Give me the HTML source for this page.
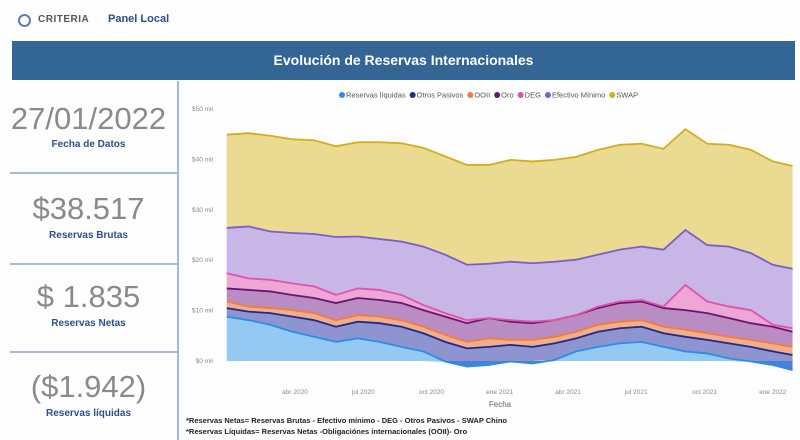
<!DOCTYPE html>
<html><head><meta charset="utf-8">
<style>
body{margin:0;width:800px;height:440px;background:#fdfdfd;font-family:"Liberation Sans",sans-serif;overflow:hidden;position:relative}
.abs{position:absolute}
.big{position:absolute;left:0;width:177px;text-align:center;color:#8a8a8a;font-size:31px;font-weight:300}
.lbl{position:absolute;left:0;width:177px;text-align:center;color:#2d4f85;font-size:10px;font-weight:bold}
.hl{position:absolute;left:10px;width:167px;height:1.5px;background:#a9b9cd}
</style></head><body>
<div class="abs" style="left:18px;top:14px;width:9px;height:9px;border:2.5px solid #5b7fb0;border-radius:50%"></div>
<div class="abs" style="left:38px;top:14px;font-size:10px;font-weight:bold;color:#555;letter-spacing:0.5px">CRITERIA</div>
<div class="abs" style="left:108px;top:13px;font-size:11px;font-weight:bold;color:#2d4f85">Panel Local</div>
<div class="abs" style="left:12px;top:41px;width:783px;height:39px;background:#336694;color:#fff;font-weight:bold;font-size:14px;text-align:center;line-height:39px">Evolución de Reservas Internacionales</div>
<div class="abs" style="left:177px;top:81px;width:1.5px;height:359px;background:#a9b9cd"></div>
<div class="big" style="top:101px">27/01/2022</div>
<div class="lbl" style="top:139px">Fecha de Datos</div>
<div class="hl" style="top:172px"></div>
<div class="big" style="top:191px">$38.517</div>
<div class="lbl" style="top:230px">Reservas Brutas</div>
<div class="hl" style="top:263px"></div>
<div class="big" style="top:279px">$ 1.835</div>
<div class="lbl" style="top:318px">Reservas Netas</div>
<div class="hl" style="top:351px"></div>
<div class="big" style="top:369px">($1.942)</div>
<div class="lbl" style="top:408px">Reservas líquidas</div>
<div class="abs" style="left:186px;top:416px;font-size:7.5px;font-weight:bold;color:#222">*Reservas Netas= Reservas Brutas - Efectivo mínimo - DEG - Otros Pasivos - SWAP Chino</div>
<div class="abs" style="left:186px;top:427px;font-size:7.5px;font-weight:bold;color:#222">*Reservas Líquidas= Reservas Netas -Obligaciónes internacionales (OOII)- Oro</div>
<svg id="chart" class="abs" style="left:0;top:0" width="800" height="440"></svg>
<script>
const months=[0,0.96,1.92,2.88,3.84,4.8,5.76,6.72,7.68,8.64,9.6,10.56,11.52,12.48,13.44,14.4,15.36,16.32,17.28,18.24,19.2,20.16,21.12,22.08,23.04,24.0,24.87];
const liquidas=[8.8,8.1,7.2,5.8,4.8,3.8,4.5,3.8,2.8,1.9,-0.1,-1.1,-0.8,-0.1,-0.5,0.2,1.9,2.8,3.5,3.8,2.8,1.9,1.5,0.5,-0.1,-0.8,-1.8];
const otrosPasivos=[1.7,1.7,2.3,3.0,3.3,3.0,3.3,3.7,4.0,3.6,3.8,2.5,2.8,3.2,2.8,3.3,2.6,3.0,3.0,3.0,2.7,2.9,2.7,3.0,2.8,1.9,1.2];
const ooii=[1.3,1.0,1.0,1.3,1.4,1.3,1.3,1.3,1.3,1.3,1.4,1.3,1.7,1.0,1.4,1.3,1.3,1.4,1.3,1.3,1.3,1.4,1.3,1.3,1.4,1.6,1.6];
const oro=[2.6,3.3,3.3,3.0,3.0,3.4,3.4,3.3,3.4,3.3,3.6,3.7,4.0,3.6,3.3,3.3,3.3,3.3,3.7,3.7,3.7,3.9,4.0,3.7,3.3,3.3,3.0];
const deg=[3.0,2.3,2.3,2.3,2.3,1.6,1.9,2.0,1.6,1.0,0.7,0.6,0,0.3,0.3,0,0,0.3,0.3,0.3,0.3,5.0,2.3,2.3,2.6,0.4,0.7];
const efectivoMinimo=[9.0,10.3,9.6,10.0,10.4,11.5,10.3,10.1,10.6,11.6,11.6,11.0,10.8,11.6,11.6,11.6,11.0,10.3,10.3,10.6,11.3,10.9,11.2,11.9,11.3,11.9,11.8];
const swap=[18.5,18.5,19.0,18.6,18.6,18.0,18.7,19.2,19.5,19.6,19.5,19.8,19.6,20.2,20.2,20.2,20.4,20.8,20.8,20.4,20.0,20.0,20.1,20.2,20.5,20.5,20.4];
const yTicks=[0,10,20,30,40,50];
const yTickLabels=["$0 mil","$10 mil","$20 mil","$30 mil","$40 mil","$50 mil"];
const xTickMonths=[3,6,9,12,15,18,21,24];
const xTickLabels=["abr 2020","jul 2020","oct 2020","ene 2021","abr 2021","jul 2021","oct 2021","ene 2022"];
const seriesNames=["Reservas líquidas","Otros Pasivos","OOII","Oro","DEG","Efectivo Mínimo","SWAP"];

const NS="http://www.w3.org/2000/svg";
const svg=document.getElementById('chart');
const X=m=>226.75+m*22.75;
const Y=v=>361-v*5.04;
function mk(t,a){const e=document.createElementNS(NS,t);for(const k in a)e.setAttribute(k,a[k]);svg.appendChild(e);return e;}
yTicks.forEach((v,i)=>{const t=mk('text',{x:213,y:Y(v)+2,'text-anchor':'end','font-size':'6.5',fill:'#888'});t.textContent=yTickLabels[i];

});
xTickMonths.forEach((m,i)=>{const t=mk('text',{x:X(m),y:394,'text-anchor':'middle','font-size':'6.5',fill:'#888'});t.textContent=xTickLabels[i];

});
const xt=mk('text',{x:500,y:407,'text-anchor':'middle','font-size':'8',fill:'#666'});xt.textContent='Fecha';


const series=[liquidas,otrosPasivos,ooii,oro,deg,efectivoMinimo,swap];
const fills=['#93c9f3','#8e94d0','#f2ad8c','#b98cc4','#eea6d6','#c8b6e6','#ebda92'];
const lines=['#2b8de6','#1d2a8a','#ef7d3c','#6b1570','#e052ac','#7b5ec6','#d2ad1c'];
const keys=['reservas-liquidas','otros-pasivos','ooii','oro','deg','efectivo-minimo','swap'];
let lower=months.map(()=>0), upper;
const layers=[];
series.forEach((s,k)=>{
  if(k===0){upper=s.slice();}
  else{const base=k===1?liquidas.map(v=>Math.max(0,v)):lower;upper=base.map((b,i)=>b+s[i]);if(k===1)lower=base;}
  if(k===0)lower=months.map(()=>0);
  layers.push({lo:lower.slice(),hi:upper.slice()});
  lower=upper.slice();
});
layers.forEach((L,k)=>{
  let d='M'+months.map((m,i)=>X(m)+','+Y(L.hi[i])).join('L');
  d+='L'+months.map((m,i)=>X(m)+','+Y(L.lo[i])).reverse().join('L')+'Z';
  const a=mk('path',{d:d,fill:k===0?'#93c9f3':fills[k],stroke:'none'});
  
  
});
// negative part of liquid reserves drawn darker
{
  let d='M'+months.map((m,i)=>X(m)+','+Y(Math.min(0,liquidas[i]))).join('L')+'L'+X(months[months.length-1])+','+Y(0)+'L'+X(0)+','+Y(0)+'Z';
  const a=mk('path',{d:d,fill:'#4a7fdc',stroke:'none'});
  
  
}
layers.forEach((L,k)=>{
  const l=mk('path',{d:'M'+months.map((m,i)=>X(m)+','+Y(L.hi[i])).join('L'),fill:'none',stroke:lines[k],'stroke-width':1.8});
  
  
});
let lx=342;
seriesNames.forEach((nm,k)=>{
  const c=mk('circle',{cx:lx,cy:95,r:3,fill:lines[k]});
  
  
  const t=mk('text',{x:lx+4,y:97.5,'font-size':'7.5',fill:'#555'});t.textContent=nm;
  
  
  lx+=8+t.getComputedTextLength()+3;
});
</script>
</body></html>
